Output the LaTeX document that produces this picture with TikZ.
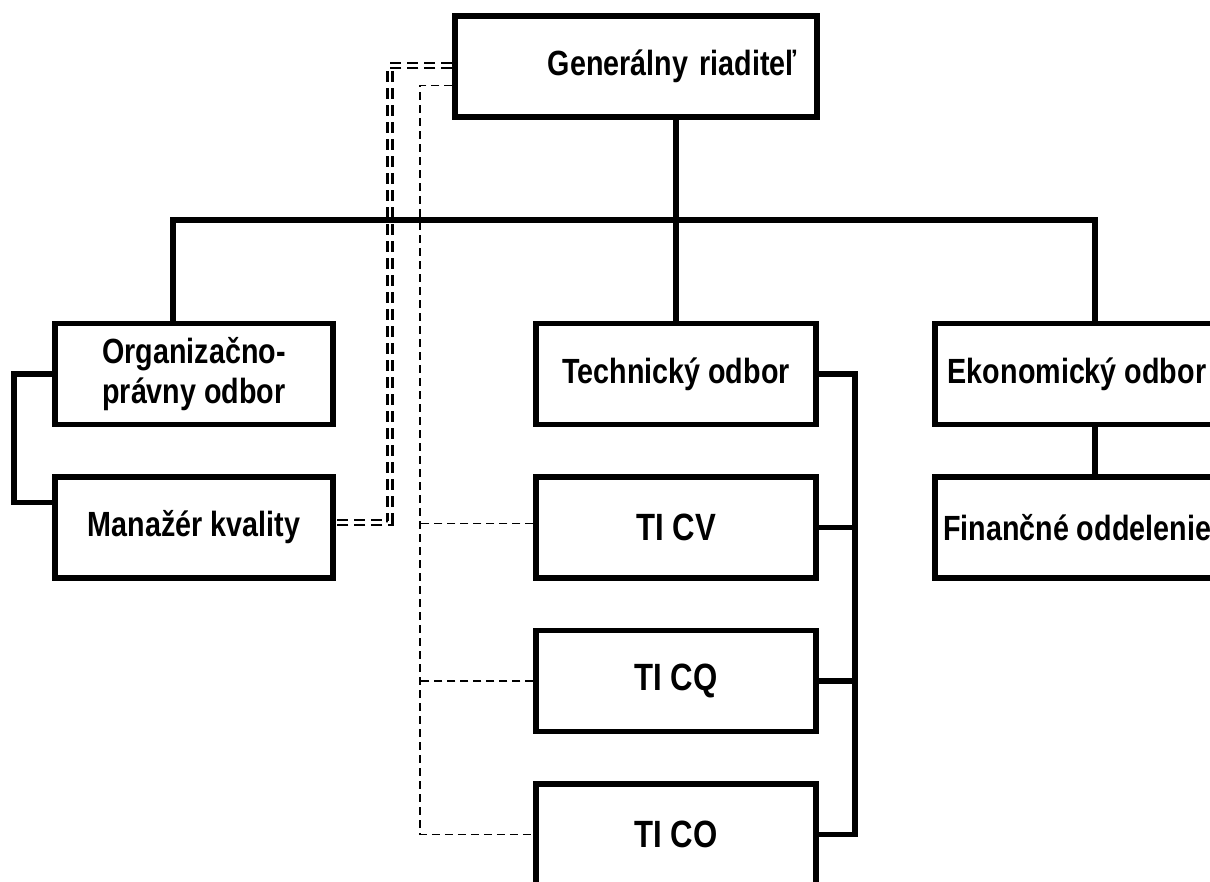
\documentclass[tikz,border=0pt]{standalone}
\usepackage{fontspec}
\setmainfont{Liberation Sans}[FakeStretch=0.82]
\usetikzlibrary{positioning}
\tikzset{
    %Define style for boxes
    unit/.style={
           rectangle,
           draw=black, line width=5.5pt,
           minimum width=278pt,
           minimum height=101pt,
           font=\bfseries\fontsize{35}{40}\selectfont,
           align=center,
           inner sep=0pt},
    tiunit/.style={
           unit,
           minimum width=280pt,
           font=\bfseries\fontsize{38}{42}\selectfont},
    % Define line styles
    link/.style={
           line width=5.5pt},
    dbl/.style={
           double, line width=2.6pt, double distance=2.6pt,
           dash pattern=on 11pt off 6pt},
    dsh/.style={
           line width=1.6pt,
           dash pattern=on 8pt off 5pt}
}

\begin{document}
\begin{tikzpicture}[x=1pt,y=-1pt,node distance=47pt]
\useasboundingbox (0,0) rectangle (1210,881);
 %nodes
\node[unit, minimum width=362pt, text width=322pt, inner xsep=20pt, align=right](gr) at (636,66.5){Generálny riaditeľ};
\node[unit](op) at (194,374){Organizačno-\\právny odbor};
\node[unit, below=of op](mk){Manažér kvality};
\node[unit, minimum width=280pt](to) at (676,374){Technický odbor};
\node[tiunit, below=of to](ticv){TI CV};
\node[tiunit, below=of ticv](ticq){TI CQ};
\node[tiunit, below=of ticq](tico){TI CO};
\node[unit, minimum width=284pt](eo) at (1077,374){Ekonomický odbor};
\node[unit, minimum width=284pt, below=of eo](fo){Finančné oddelenie};
 %helper points
\coordinate (busl) at (173,220);
\coordinate (busr) at (1095,220);
\coordinate (lbr) at (14,0);
\coordinate (rbr) at (855,0);
\coordinate (dbx) at (390,0);
\coordinate (dsx) at (420,0);
\coordinate (grdb) at ([yshift=1pt]gr.west);
\coordinate (grds) at ([yshift=-19pt]gr.west);
\coordinate (mkdb) at ([yshift=5pt]mk.east);
\coordinate (mkin) at ([yshift=25pt]mk.west);
\coordinate (cvds) at ([yshift=4pt]ticv.west);
 %dashed links
\draw[dbl] (grdb) -| (dbx |- mkdb) -- (mkdb);
\draw[dsh] (grds) -| (dsx |- tico.west) -- (tico.west);
\draw[dsh] (cvds) -- (cvds -| dsx);
\draw[dsh] (ticq.west) -- (ticq.west -| dsx);
 %solid links
\draw[link] (gr.south -| to.north) -- (to.north);
\draw[link] (op.north -| busl) |- (busr) -- (eo.north -| busr);
\draw[link] (eo.south -| busr) -- (fo.north -| busr);
\draw[link] (op.west) -| (lbr |- mkin) -- (mkin);
\draw[link] (to.east) -| (rbr |- tico.east) -- (tico.east);
\draw[link] (ticv.east) -- (ticv.east -| rbr);
\draw[link] (ticq.east) -- (ticq.east -| rbr);
\end{tikzpicture}
\end{document}
